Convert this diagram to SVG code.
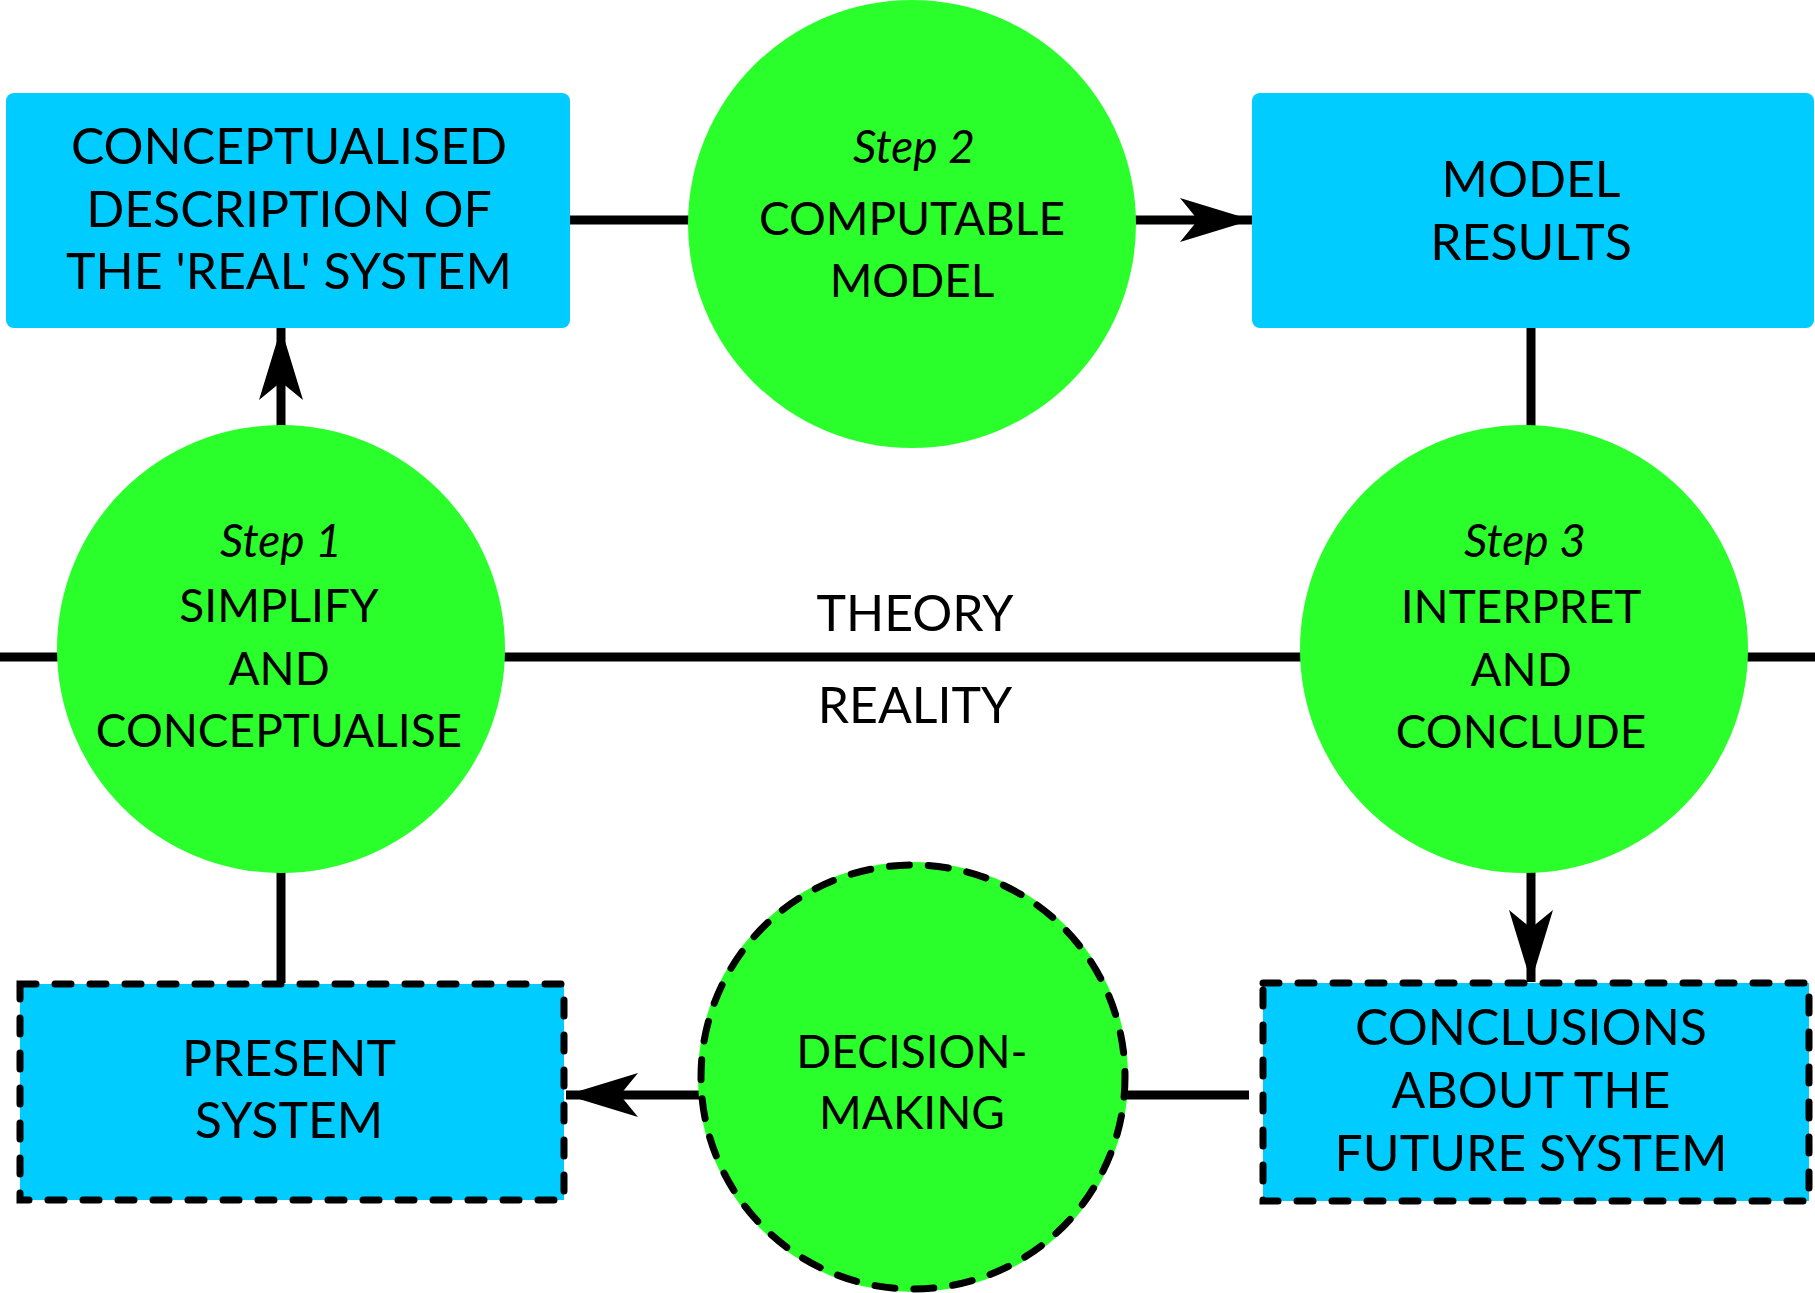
<svg xmlns="http://www.w3.org/2000/svg" width="1815" height="1293" viewBox="0 0 1815 1293">
<style>
.box{fill:#00CCFF}
.dbox{fill:#00CCFF;stroke:#000;stroke-width:7;stroke-dasharray:16 19;stroke-linecap:round}
.circ{fill:#2BFF2B}
.dcirc{fill:#2BFF2B;stroke:#000;stroke-width:7;stroke-dasharray:20 19;stroke-linecap:round}
.line{stroke:#000;stroke-width:9;fill:none}
text{font-family:Lato,"Open Sans","Liberation Sans",sans-serif;font-size:50px;fill:#000;text-anchor:middle}
.c text{font-size:46px}
.it{font-style:italic}
</style>
<defs>
<marker id="ah" viewBox="-72 -22 72 44" markerWidth="72" markerHeight="44" refX="0" refY="0" orient="auto" markerUnits="userSpaceOnUse">
<path d="M0,0 L-72,-22 L-54,0 L-72,22 Z" fill="#000"/>
</marker>
</defs>
<g id="connectors">
<line class="line" x1="0" y1="657" x2="1815" y2="657"/>
<line class="line" x1="570" y1="220" x2="690" y2="220"/>
<line class="line" x1="1134" y1="220" x2="1252" y2="220" marker-end="url(#ah)"/>
<line class="line" x1="281" y1="427" x2="281" y2="328" marker-end="url(#ah)"/>
<line class="line" x1="1531" y1="328" x2="1531" y2="428"/>
<line class="line" x1="1531" y1="872" x2="1531" y2="982" marker-end="url(#ah)"/>
<line class="line" x1="281" y1="871" x2="281" y2="983"/>
<line class="line" x1="1249" y1="1095" x2="1126" y2="1095"/>
<line class="line" x1="702" y1="1095" x2="566" y2="1095" marker-end="url(#ah)"/>
</g>
<g id="theory-label"><text x="915" y="631">THEORY</text></g>
<g id="reality-label"><text x="915" y="723">REALITY</text></g>
<g id="box-conceptualised">
<rect class="box" x="6" y="93" width="564" height="235" rx="8"/>
<text x="289" y="164">CONCEPTUALISED</text>
<text x="289" y="227">DESCRIPTION OF</text>
<text x="289" y="289">THE 'REAL' SYSTEM</text>
</g>
<g id="step2" class="c">
<circle class="circ" cx="912" cy="224" r="224"/>
<text class="it" x="914" y="163">Step 2</text>
<text x="912" y="235">COMPUTABLE</text>
<text x="912" y="297">MODEL</text>
</g>
<g id="box-model-results">
<rect class="box" x="1252" y="93" width="562" height="235" rx="8"/>
<text x="1531" y="197">MODEL</text>
<text x="1531" y="260">RESULTS</text>
</g>
<g id="step1" class="c">
<circle class="circ" cx="281" cy="649" r="224"/>
<text class="it" x="281" y="557">Step 1</text>
<text x="279" y="622">SIMPLIFY</text>
<text x="279" y="685">AND</text>
<text x="279" y="747">CONCEPTUALISE</text>
</g>
<g id="step3" class="c">
<circle class="circ" cx="1524" cy="649" r="224"/>
<text class="it" x="1525" y="557">Step 3</text>
<text x="1521" y="623">INTERPRET</text>
<text x="1521" y="686">AND</text>
<text x="1521" y="748">CONCLUDE</text>
</g>
<g id="box-present-system">
<rect class="dbox" x="20" y="984" width="544" height="216"/>
<text x="289" y="1076">PRESENT</text>
<text x="289" y="1138">SYSTEM</text>
</g>
<g id="decision-making" class="c">
<circle class="circ" cx="913" cy="1077" r="215"/>
<circle class="dcirc" cx="913" cy="1077" r="212"/>
<text x="912" y="1068">DECISION-</text>
<text x="912" y="1129">MAKING</text>
</g>
<g id="box-conclusions">
<rect class="dbox" x="1263" y="983" width="546" height="218"/>
<text x="1531" y="1045">CONCLUSIONS</text>
<text x="1531" y="1108">ABOUT THE</text>
<text x="1531" y="1171">FUTURE SYSTEM</text>
</g>
</svg>
